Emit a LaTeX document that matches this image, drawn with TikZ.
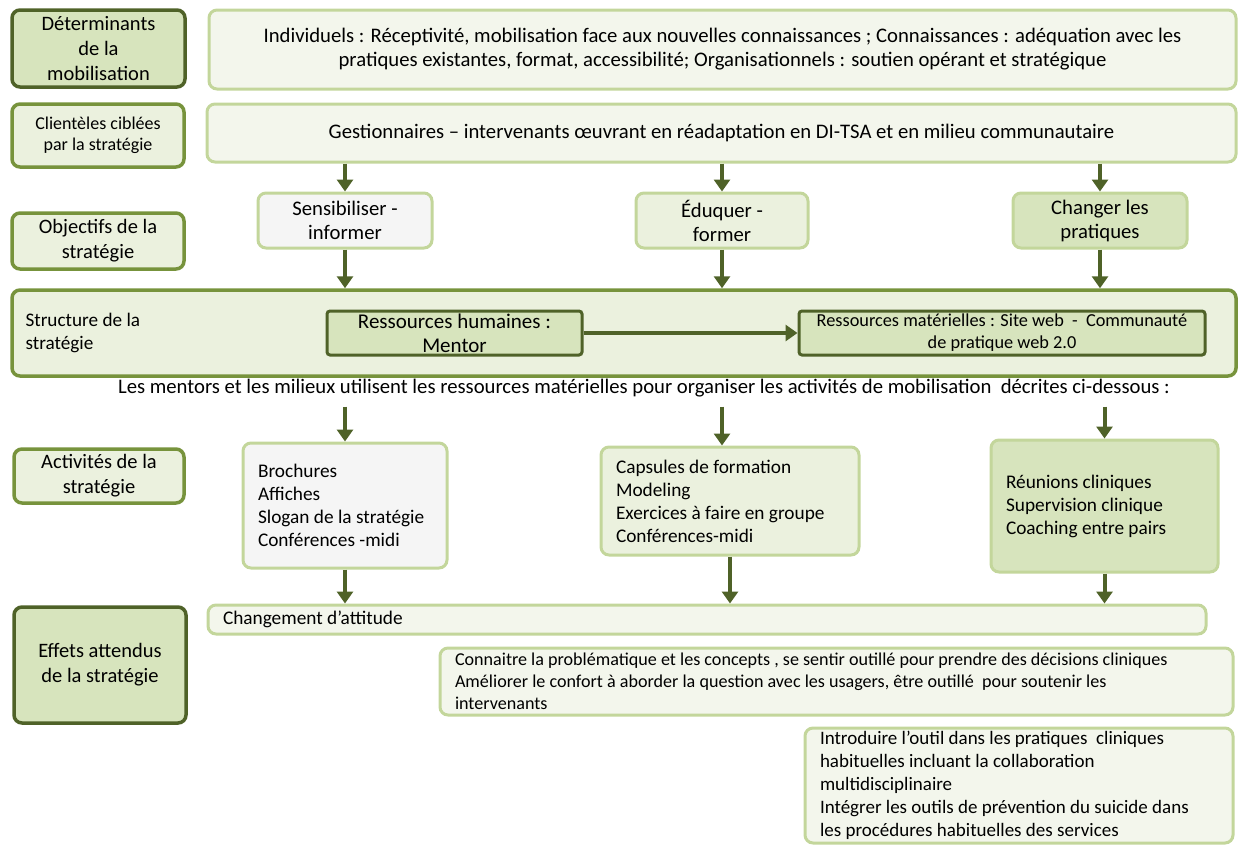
\documentclass[tikz,border=0pt]{standalone}
\usepackage{fontspec}
\setmainfont{Carlito}
\usetikzlibrary{positioning,arrows.meta}

\definecolor{darkolive}{HTML}{4F6228}
\definecolor{midolive}{HTML}{77933C}
\definecolor{lightolive}{HTML}{C3D69B}
\definecolor{fillmid}{HTML}{D7E4BD}
\definecolor{filllight}{HTML}{EBF1DE}
\definecolor{fillpale}{HTML}{F3F6EC}
\definecolor{fillgray}{HTML}{F5F5F5}

\tikzset{
  headdark/.style={draw=darkolive, fill=fillmid, line width=3.5pt, rounded corners=8pt,
    align=flush center, inner sep=0pt, font=\fontsize{20.5}{25}\selectfont},
  headmid/.style={draw=midolive, fill=filllight, line width=3.5pt, rounded corners=8pt,
    align=flush center, inner sep=0pt, font=\fontsize{20.5}{25}\selectfont},
  content/.style={draw=lightolive, fill=fillpale, line width=3pt, rounded corners=8pt,
    align=flush center, inner sep=0pt, font=\fontsize{20.7}{24}\selectfont},
  listbox/.style={content, align=flush left, inner xsep=15pt, font=\fontsize{19.3}{23}\selectfont},
  resbox/.style={draw=darkolive, fill=fillmid, line width=3pt, rounded corners=3pt,
    align=flush center, inner sep=0pt},
  flow/.style={draw=darkolive, line width=4pt, -{Triangle[length=12pt,width=16pt]}},
}

\begin{document}
\begin{tikzpicture}[x=1pt,y=-1pt]

  \useasboundingbox (0,0) rectangle (1238,844);

  % en-tetes de gauche
  \node[headdark, minimum width=173pt, minimum height=77pt] (det) at (98.5,48.5) {Déterminants\\de la\\mobilisation};
  \node[headmid, minimum width=172pt, minimum height=63pt, font=\fontsize{18}{21}\selectfont] (cli) at (98,135.5) {Clientèles ciblées\\par la stratégie};
  \node[headmid, minimum width=172pt, minimum height=56pt] (obj) at (98,241) {Objectifs de la\\stratégie};
  \node[headmid, minimum width=170pt, minimum height=54pt] (act) at (99,476) {Activités de la\\stratégie};
  \node[headdark, minimum width=172pt, minimum height=116pt] (eff) at (100,665) {Effets attendus\\de la stratégie};

  % determinants et clienteles
  \node[content, minimum width=1027pt, minimum height=79pt] (detc) at (722.5,49.5)
    {Individuels : Réceptivité, mobilisation face aux nouvelles connaissances ; Connaissances : adéquation avec les\\
     pratiques existantes, format, accessibilité; Organisationnels : soutien opérant et stratégique};
  \node[content, minimum width=1029pt, minimum height=58pt] (clic) at (721.5,133)
    {Gestionnaires -- intervenants œuvrant en réadaptation en DI-TSA et en milieu communautaire};

  % objectifs
  \node[content, fill=fillgray, minimum width=174pt, minimum height=55pt] (sens) at (345,220.5) {Sensibiliser -\\informer};
  \node[content, fill=filllight, minimum width=172pt, minimum height=55pt] (edu) at (722,220.5) {Éduquer -\\former};
  \node[content, fill=fillmid, minimum width=174pt, minimum height=55pt] (chg) at (1100,220.5) {Changer les\\pratiques};

  % structure
  \node[headmid, minimum width=1224pt, minimum height=86pt] (struct) at (624,333) {};
  \node[anchor=west, align=flush left, font=\fontsize{19.2}{23}\selectfont] (structt) at (22,333) {Structure de la\\stratégie};
  \node[resbox, minimum width=255pt, minimum height=44pt, font=\fontsize{21}{24}\selectfont] (rh) at (454.5,333) {Ressources humaines :\\Mentor};
  \node[resbox, minimum width=406pt, minimum height=44pt, font=\fontsize{18.3}{22}\selectfont] (rm) at (1002,333) {Ressources matérielles : Site web \ - \ Communauté\\de pratique web 2.0};
  \node[font=\fontsize{20.7}{22}\selectfont] (usage) at (644,388)
    {Les mentors et les milieux utilisent les ressources matérielles pour organiser les activités de mobilisation \ décrites ci-dessous :};

  % activites
  \node[listbox, fill=fillgray, text width=174pt, minimum height=125pt] (act1) at (345,505.5)
    {Brochures\\Affiches\\Slogan de la stratégie\\Conférences -midi};
  \node[listbox, fill=filllight, text width=228pt, minimum height=108pt] (act2) at (730,501)
    {Capsules de formation\\Modeling\\Exercices à faire en groupe\\Conférences-midi};
  \node[listbox, fill=fillmid, text width=197pt, minimum height=132pt] (act3) at (1104.5,506)
    {Réunions cliniques\\Supervision clinique\\Coaching entre pairs};

  % effets
  \node[listbox, text width=968pt, minimum height=29pt] (att) at (707,619.5) {Changement d’attitude};
  \node[listbox, text width=763pt, minimum height=67pt, font=\fontsize{18.1}{22}\selectfont] (conn) at (836.5,681.5)
    {Connaitre la problématique et les concepts , se sentir outillé pour prendre des décisions cliniques\\
     Améliorer le confort à aborder la question avec les usagers, être outillé \ pour soutenir les\\
     intervenants};
  \node[listbox, text width=398pt, minimum height=115pt, font=\fontsize{19}{23}\selectfont] (intro) at (1019,785.5)
    {Introduire l’outil dans les pratiques \ cliniques\\habituelles incluant la collaboration\\multidisciplinaire\\
     Intégrer les outils de prévention du suicide dans\\les procédures habituelles des services};

  % fleches
  \draw[flow] (sens.north |- clic.south) -- (sens.north);
  \draw[flow] (edu.north |- clic.south) -- (edu.north);
  \draw[flow] (chg.north |- clic.south) -- (chg.north);
  \draw[flow] (sens.south) -- (sens.south |- struct.north);
  \draw[flow] (edu.south) -- (edu.south |- struct.north);
  \draw[flow] (chg.south) -- (chg.south |- struct.north);
  \draw[flow] (rh.east) -- (rm.west);
  \draw[flow, shorten <=6pt] (act1.north |- usage.south) -- (act1.north);
  \draw[flow, shorten <=6pt] ([xshift=-8pt]act2.north |- usage.south) -- ([xshift=-8pt]act2.north);
  \draw[flow, shorten <=6pt] (act3.north |- usage.south) -- (act3.north);
  \draw[flow] (act1.south) -- (act1.south |- att.north);
  \draw[flow] (act2.south) -- (act2.south |- att.north);
  \draw[flow] (act3.south) -- (act3.south |- att.north);

\end{tikzpicture}
\end{document}
